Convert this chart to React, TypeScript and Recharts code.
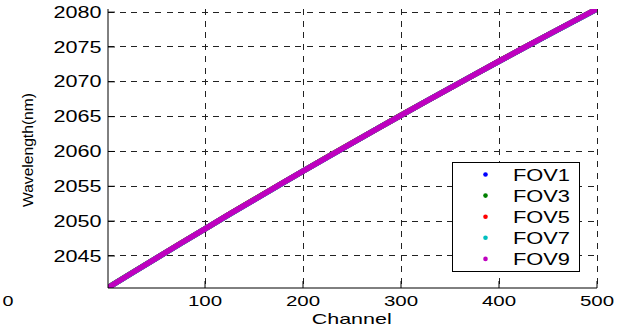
import React from 'react';
import {
  LineChart,
  Line,
  XAxis,
  YAxis,
  CartesianGrid,
  Legend,
} from 'recharts';

// Channel index along the detector
const channels = [1, 25, 50, 75, 100, 125, 150, 175, 200, 225, 250, 275, 300, 325, 350, 375, 400, 425, 450, 475, 500];

// Calibrated wavelength (nm) per field of view
const fov1 = [2040.45, 2042.52, 2044.66, 2046.79, 2048.89, 2050.99, 2053.06, 2055.12, 2057.17, 2059.2, 2061.21, 2063.21, 2065.19, 2067.15, 2069.1, 2071.03, 2072.95, 2074.85, 2076.73, 2078.6, 2080.45];
const fov3 = [2040.46, 2042.53, 2044.66, 2046.79, 2048.9, 2050.99, 2053.07, 2055.12, 2057.17, 2059.21, 2061.21, 2063.21, 2065.2, 2067.15, 2069.1, 2071.03, 2072.95, 2074.85, 2076.73, 2078.6, 2080.45];
const fov5 = [2040.45, 2042.52, 2044.67, 2046.8, 2048.9, 2051.0, 2053.07, 2055.13, 2057.18, 2059.21, 2061.22, 2063.21, 2065.2, 2067.16, 2069.1, 2071.04, 2072.96, 2074.86, 2076.74, 2078.61, 2080.46];
const fov7 = [2040.44, 2042.51, 2044.65, 2046.78, 2048.88, 2050.98, 2053.05, 2055.11, 2057.16, 2059.19, 2061.2, 2063.2, 2065.18, 2067.14, 2069.09, 2071.02, 2072.94, 2074.84, 2076.72, 2078.59, 2080.44];
const fov9 = [2040.45, 2042.52, 2044.66, 2046.79, 2048.89, 2050.99, 2053.06, 2055.12, 2057.17, 2059.2, 2061.21, 2063.21, 2065.19, 2067.15, 2069.1, 2071.03, 2072.95, 2074.85, 2076.73, 2078.6, 2080.45];

const xTicks = [100, 200, 300, 400, 500];
const yTicks = [2045, 2050, 2055, 2060, 2065, 2070, 2075, 2080];

const series = [
  { key: 'fov1', name: 'FOV1', color: '#0000FF', values: fov1 },
  { key: 'fov3', name: 'FOV3', color: '#008000', values: fov3 },
  { key: 'fov5', name: 'FOV5', color: '#FF0000', values: fov5 },
  { key: 'fov7', name: 'FOV7', color: '#00BFBF', values: fov7 },
  { key: 'fov9', name: 'FOV9', color: '#BF00BF', values: fov9 },
];

const data = channels.map((ch, i) => {
  const row: Record<string, number> = { channel: ch };
  series.forEach((s) => {
    row[s.key] = s.values[i];
  });
  return row;
});

const FONT = '"Liberation Sans", Arial, Helvetica, sans-serif';
const TICK_LEN = 7;

const BottomTick = (props: any) => {
  const { x, y, payload } = props;
  const label = String(payload.value);
  return (
    <g>
      <line x1={x} x2={x} y1={y} y2={y - TICK_LEN} stroke="#000" strokeWidth={1} />
      <text
        x={x}
        y={y + 18}
        textAnchor="middle"
        fontSize={15}
        fontFamily={FONT}
        fill="#000"
        textLength={label.length * 11.4}
        lengthAdjust="spacingAndGlyphs"
      >
        {label}
      </text>
    </g>
  );
};

const LeftTick = (props: any) => {
  const { x, y, payload } = props;
  const label = String(payload.value);
  return (
    <g>
      <line x1={x} x2={x + TICK_LEN} y1={y} y2={y} stroke="#000" strokeWidth={1} />
      <text
        x={x - 6.5}
        y={y + 5.6}
        textAnchor="end"
        fontSize={16}
        fontFamily={FONT}
        fill="#000"
        textLength={label.length * 12}
        lengthAdjust="spacingAndGlyphs"
      >
        {label}
      </text>
    </g>
  );
};

const TopTick = (props: any) => {
  const { x, y } = props;
  return <line x1={x} x2={x} y1={y} y2={y + TICK_LEN} stroke="#000" strokeWidth={1} />;
};

const RightTick = (props: any) => {
  const { x, y } = props;
  return <line x1={x} x2={x - TICK_LEN} y1={y} y2={y} stroke="#000" strokeWidth={1} />;
};

const XLabel = () => (
  <g>
    <text
      x={351.7}
      y={324.3}
      textAnchor="middle"
      fontSize={15}
      fontFamily={FONT}
      fill="#000"
      textLength={80}
      lengthAdjust="spacingAndGlyphs"
    >
      Channel
    </text>
    <text
      x={8}
      y={306}
      textAnchor="middle"
      fontSize={15}
      fontFamily={FONT}
      fill="#000"
      textLength={11}
      lengthAdjust="spacingAndGlyphs"
    >
      0
    </text>
  </g>
);

const YLabel = () => (
  <text
    transform="translate(33,150) rotate(-90)"
    textAnchor="middle"
    fontSize={14}
    fontFamily={FONT}
    fill="#000"
    textLength={114}
    lengthAdjust="spacingAndGlyphs"
  >
    Wavelength(nm)
  </text>
);

const LegendBox = (props: any) => {
  const items = (props.payload || []) as any[];
  return (
    <svg width={129} height={112} style={{ display: 'block', overflow: 'visible' }}>
      <rect x={0.5} y={0.5} width={127} height={109} fill="#fff" stroke="#000" strokeWidth={1} />
      {items.map((it, i) => {
        const cy = 12.5 + i * 21.1;
        return (
          <g key={it.value}>
            <circle cx={33.5} cy={cy} r={2.3} fill={it.color} />
            <text
              x={61}
              y={cy + 6.4}
              fontSize={16}
              fontFamily={FONT}
              fill="#000"
              textLength={57}
              lengthAdjust="spacingAndGlyphs"
            >
              {it.value}
            </text>
          </g>
        );
      })}
    </svg>
  );
};

export default function App() {
  return (
    <div style={{ position: 'absolute', left: 0, top: 0, width: 632, height: 331, background: '#fff' }}>
      <LineChart
        width={632}
        height={331}
        data={data}
        margin={{ top: 9, right: 35, bottom: 0, left: 8 }}
      >
        <CartesianGrid
          stroke="#222"
          strokeWidth={1}
          strokeDasharray="6 5.7"
          shapeRendering="crispEdges"
          horizontalValues={yTicks}
          verticalValues={xTicks}
        />
        <XAxis
          xAxisId={0}
          dataKey="channel"
          type="number"
          domain={[1, 500]}
          ticks={xTicks}
          allowDataOverflow
          height={43}
          tickSize={0}
          tickMargin={0}
          tickLine={false}
          axisLine={{ stroke: '#000', strokeWidth: 1 }}
          tick={<BottomTick />}
          interval={0}
          label={{ content: <XLabel /> }}
        />
        <XAxis
          xAxisId="top"
          orientation="top"
          dataKey="channel"
          type="number"
          domain={[1, 500]}
          ticks={xTicks}
          allowDataOverflow
          height={0}
          tickSize={0}
          tickMargin={0}
          tickLine={false}
          axisLine={{ stroke: '#000', strokeWidth: 1 }}
          tick={<TopTick />}
          interval={0}
        />
        <YAxis
          yAxisId={0}
          type="number"
          domain={[2040.4, 2080.45]}
          ticks={yTicks}
          allowDataOverflow
          width={100}
          tickSize={0}
          tickMargin={0}
          tickLine={false}
          axisLine={{ stroke: '#000', strokeWidth: 1 }}
          tick={<LeftTick />}
          interval={0}
          label={{ content: <YLabel /> }}
        />
        <YAxis
          yAxisId="right"
          orientation="right"
          type="number"
          domain={[2040.4, 2080.45]}
          ticks={yTicks}
          allowDataOverflow
          width={0}
          tickSize={0}
          tickMargin={0}
          tickLine={false}
          axisLine={{ stroke: '#000', strokeWidth: 1 }}
          tick={<RightTick />}
          interval={0}
        />
        {series.map((s) => (
          <Line
            key={s.key}
            xAxisId={0}
            yAxisId={0}
            type="linear"
            dataKey={s.key}
            name={s.name}
            stroke={s.color}
            strokeWidth={5.5}
            strokeLinecap="round"
            strokeLinejoin="round"
            dot={false}
            activeDot={false}
            isAnimationActive={false}
          />
        ))}
        <Legend
          layout="vertical"
          align="center"
          verticalAlign="middle"
          width={129}
          height={112}
          wrapperStyle={{ position: 'absolute', left: 452, top: 162, width: 129, height: 112 }}
          content={<LegendBox />}
        />
      </LineChart>
    </div>
  );
}
